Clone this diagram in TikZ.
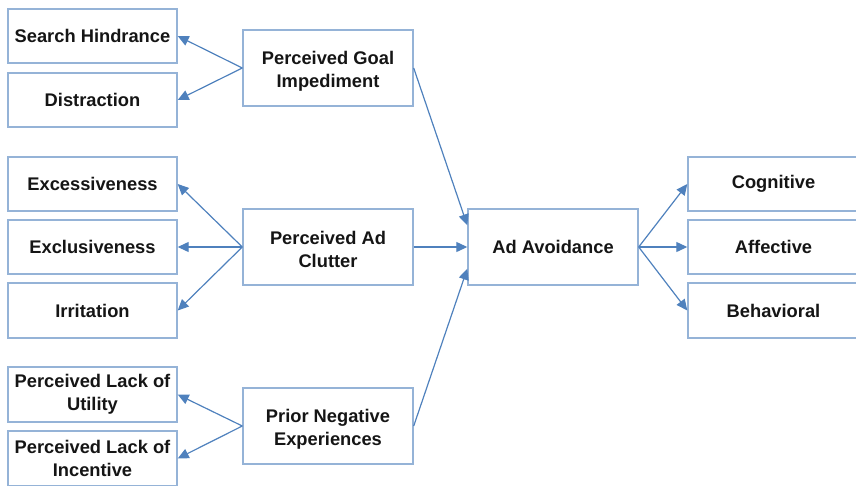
\documentclass[tikz,border=0pt]{standalone}
\usepackage{fontspec}
\setmainfont{Liberation Sans}
\usetikzlibrary{arrows.meta,calc}
\definecolor{boxline}{HTML}{95B3D7}
\definecolor{arrowline}{HTML}{4F81BD}
\definecolor{txt}{HTML}{151515}
\newcommand{\topstrut}{\rule{0pt}{19pt}}
\begin{document}
\begin{tikzpicture}[x=1pt,y=-1pt,
  box/.style={draw=boxline,line width=1.4pt,fill=white,rectangle,inner sep=0pt,
    align=center,text=txt,font=\fontsize{18.3}{23}\selectfont\bfseries},
  sbox/.style={box,minimum width=169pt,minimum height=54pt},
  bbox/.style={box,minimum width=170pt,minimum height=76pt},
  conn/.style={draw=arrowline,line width=1.2pt,-{Triangle[length=11pt,width=10pt]}}]
\useasboundingbox (0,0) rectangle (856,485);
\node[sbox] (SH) at (92.5,36) {Search Hindrance};
\node[sbox] (DI) at (92.5,100) {Distraction};
\node[bbox] (PGI) at (328,68) {\topstrut Perceived Goal\\Impediment};
\node[sbox] (EX) at (92.5,184) {Excessiveness};
\node[sbox] (EL) at (92.5,247) {Exclusiveness};
\node[sbox,minimum height=55pt] (IR) at (92.5,310.5) {Irritation};
\node[bbox] (PAC) at (328,247) {\topstrut Perceived Ad\\Clutter};
\node[bbox] (AA) at (553,247) {Ad Avoidance};
\node[sbox,minimum width=171pt] (CO) at (773.5,184) {Cognitive};
\node[sbox,minimum width=171pt] (AF) at (773.5,247) {Affective};
\node[sbox,minimum width=171pt,minimum height=55pt] (BE) at (773.5,310.5) {Behavioral};
\node[sbox,minimum height=55pt] (PLU) at (92.5,394.5) {Perceived Lack of\\Utility};
\node[sbox,minimum height=55pt] (PLI) at (92.5,458.5) {Perceived Lack of\\Incentive};
\node[bbox] (PNE) at (328,426) {\topstrut Prior Negative\\Experiences};
\coordinate (AAin1) at ($(AA.north west)!0.22!(AA.south west)$);
\coordinate (AAin3) at ($(AA.north west)!0.78!(AA.south west)$);
\draw[conn] (PGI.west) -- (SH.east);
\draw[conn] (PGI.west) -- (DI.east);
\draw[conn] (PAC.west) -- (EX.east);
\draw[conn] (PAC.west) -- (EL.east);
\draw[conn] (PAC.west) -- (IR.east);
\draw[conn] (PNE.west) -- (PLU.east);
\draw[conn] (PNE.west) -- (PLI.east);
\draw[conn] (PGI.east) -- (AAin1);
\draw[conn] (PAC.east) -- (AA.west);
\draw[conn] (PNE.east) -- (AAin3);
\draw[conn] (AA.east) -- (CO.west);
\draw[conn] (AA.east) -- (AF.west);
\draw[conn] (AA.east) -- (BE.west);
\end{tikzpicture}
\end{document}
